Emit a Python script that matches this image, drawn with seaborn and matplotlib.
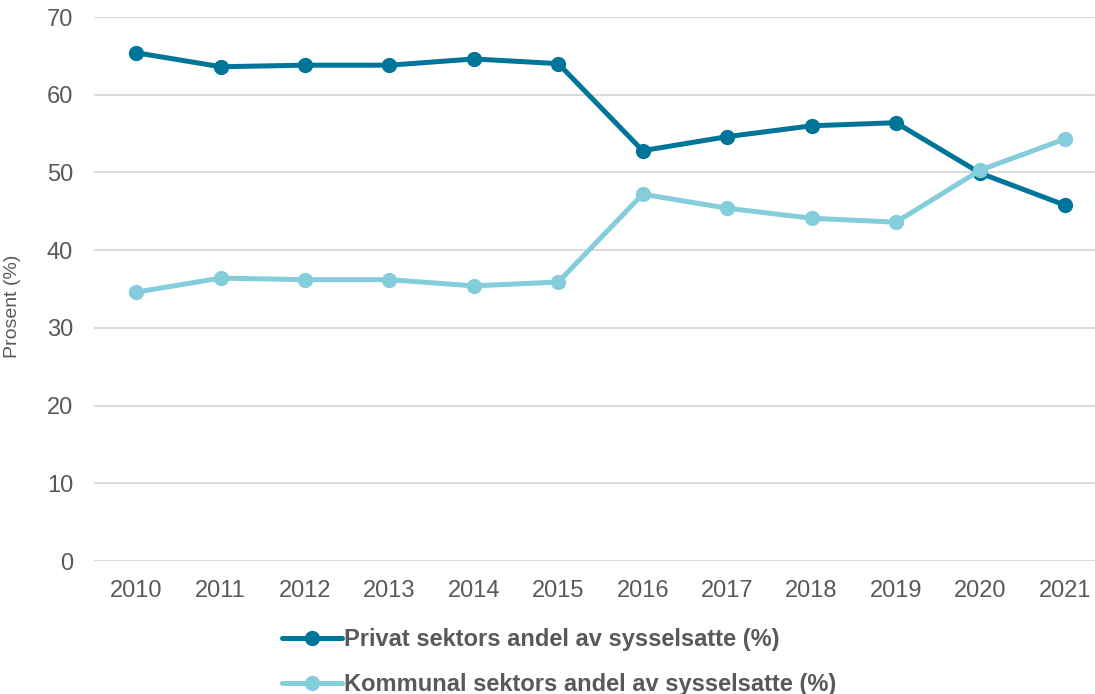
import matplotlib
matplotlib.use("Agg")
import matplotlib.pyplot as plt
import seaborn as sns
import pandas as pd

years = [2010, 2011, 2012, 2013, 2014, 2015, 2016, 2017, 2018, 2019, 2020, 2021]
privat = [65.4, 63.6, 63.8, 63.8, 64.6, 64.0, 52.8, 54.6, 56.0, 56.4, 49.9, 45.8]
kommunal = [34.6, 36.4, 36.2, 36.2, 35.4, 35.9, 47.2, 45.4, 44.1, 43.6, 50.3, 54.3]
series_names = ["Privat sektors andel av sysselsatte (%)",
                "Kommunal sektors andel av sysselsatte (%)"]
colors = ["#00759A", "#84CDDA"]
y_ticks = [0, 10, 20, 30, 40, 50, 60, 70]

sns.set_theme(style="white")
plt.rcParams['font.family'] = ['Liberation Sans', 'DejaVu Sans']

df = pd.DataFrame({
    "pos": list(range(len(years))) * 2,
    "value": privat + kommunal,
    "series": [series_names[0]] * len(years) + [series_names[1]] * len(years),
})

fig = plt.figure(figsize=(10.95, 6.94), dpi=100)
ax = fig.add_axes([94/1095, (694-561)/694, (1107-94)/1095, (561-17)/694])

sns.lineplot(data=df, x="pos", y="value", hue="series", palette=colors,
             marker="o", markersize=11, linewidth=3.6, markeredgewidth=0,
             ax=ax, legend=True)

ax.set_xlim(-0.5, len(years) - 0.5)
ax.set_ylim(0, 70)
ax.set_xticks(range(len(years)))
ax.set_xticklabels([str(y) for y in years])
ax.set_yticks(y_ticks)
ax.set_yticklabels([str(t) for t in y_ticks])
ax.grid(axis="y", color="#D9D9D9", linewidth=1.3)
ax.set_axisbelow(True)
for s in ax.spines.values():
    s.set_visible(False)
ax.tick_params(axis="both", length=0, labelsize=17, labelcolor="#595959")
ax.tick_params(axis="x", pad=13.5)
ax.tick_params(axis="y", pad=15)
ax.set_xlabel("")
ax.set_ylabel("Prosent (%)", fontsize=14, color="#595959", labelpad=10)
ax.yaxis.set_label_coords(-0.072, 0.469)

handles, labels = ax.get_legend_handles_labels()
ax.get_legend().remove()
leg = fig.legend(handles, labels, loc="center", bbox_to_anchor=(559/1095, 1 - 662/694),
                 ncol=1, frameon=False, handlelength=2.55, handletextpad=0.1,
                 labelspacing=0.95, prop={"weight": "bold", "size": 17})
for t in leg.get_texts():
    t.set_color("#595959")

fig.savefig("out.png", dpi=100)
